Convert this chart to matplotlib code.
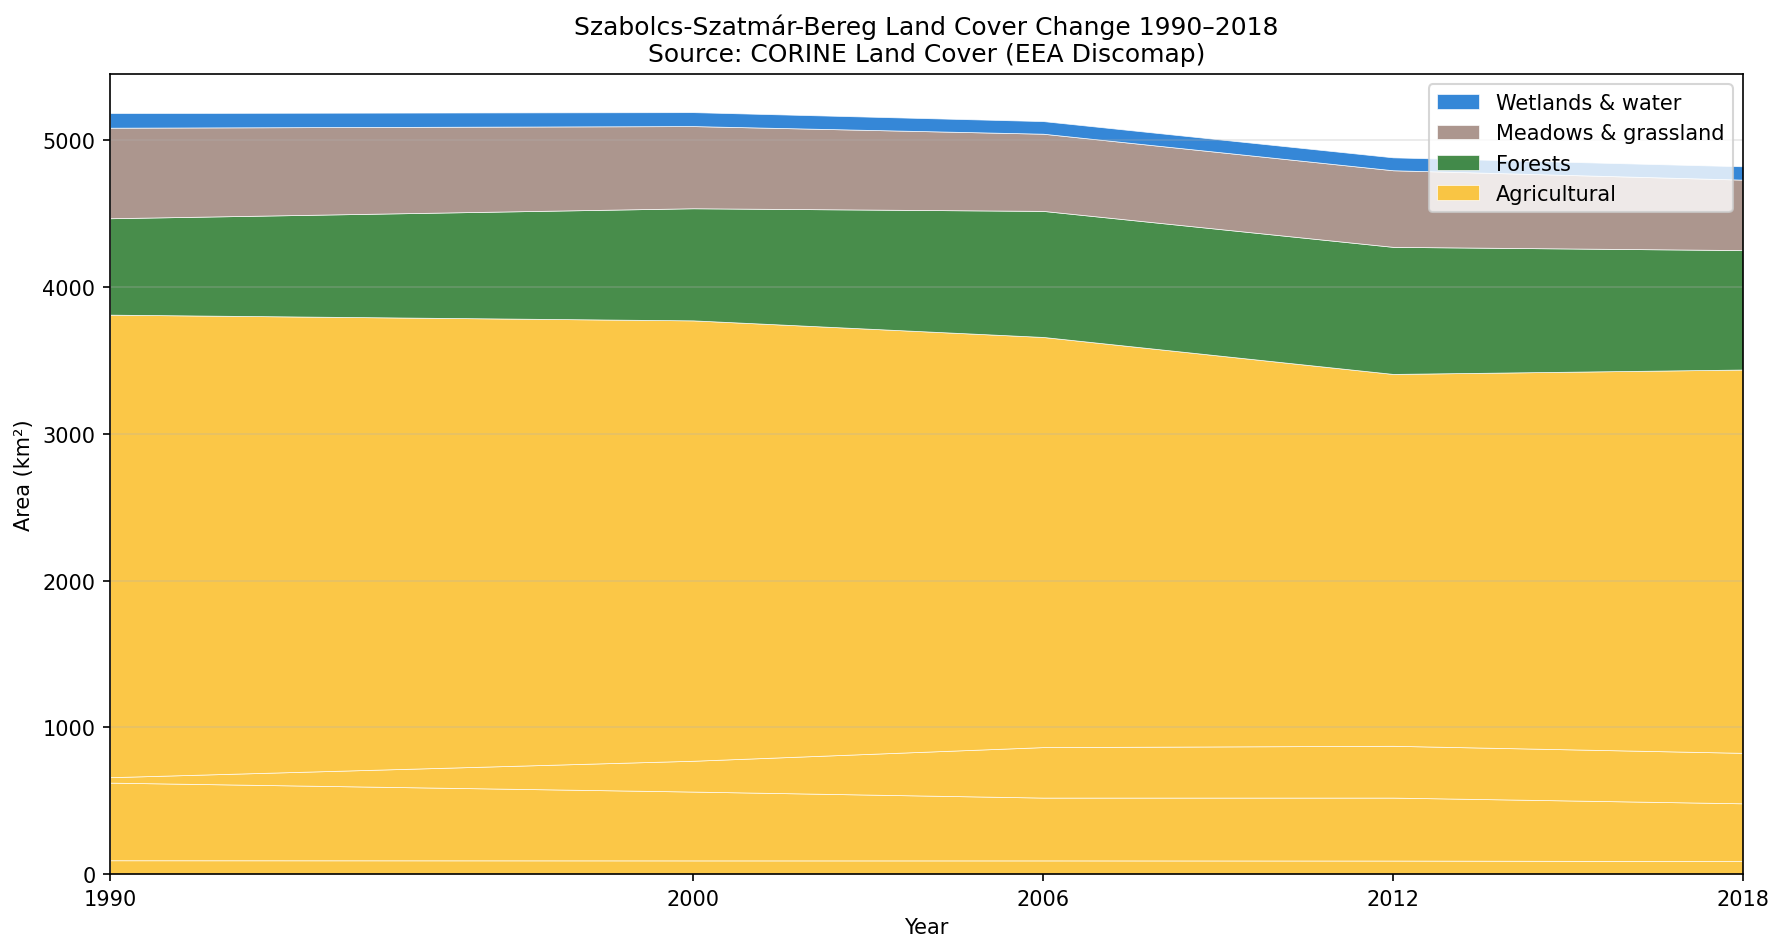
import matplotlib
matplotlib.use('Agg')
import matplotlib.pyplot as plt

# Years and areas (km2), bottom layer first
years = [1990, 2000, 2006, 2012, 2018]

# the yellow band is built from four stacked agricultural sub-layers
agri_1 = [94, 93, 93, 92, 88]
agri_2 = [529, 469, 428, 429, 394]
agri_3 = [37, 210, 344, 353, 344]
agri_4 = [3152, 3001, 2795, 2534, 2612]
forests = [657, 764, 859, 866, 814]
meadows = [617, 560, 526, 522, 480]
wetlands = [100, 95, 86, 88, 91]

legend_names = ['Agricultural', 'Forests', 'Meadows & grassland', 'Wetlands & water']

yellow = '#FBC02D'
colors = [yellow, yellow, yellow, yellow, '#2E7D32', '#A1887F', '#1976D2']

fig, ax = plt.subplots(figsize=(11.893, 6.353), dpi=150)
fig.subplots_adjust(left=0.0617, right=0.977, top=0.9213, bottom=0.0818)

polys = ax.stackplot(years, agri_1, agri_2, agri_3, agri_4, forests, meadows, wetlands,
                     colors=colors, alpha=0.88, edgecolor='white', linewidth=0.35)

ax.set_xlim(years[0], years[-1])
ax.set_xticks(years)
ax.grid(axis='y', alpha=0.3)

ax.set_title('Szabolcs-Szatmár-Bereg Land Cover Change 1990–2018\nSource: CORINE Land Cover (EEA Discomap)')
ax.set_xlabel('Year')
ax.set_ylabel('Area (km²)')

# legend: top layer first
handles = polys[3:]
ax.legend(handles[::-1], legend_names[::-1], loc='upper right')

fig.savefig('out.png', dpi=150)
